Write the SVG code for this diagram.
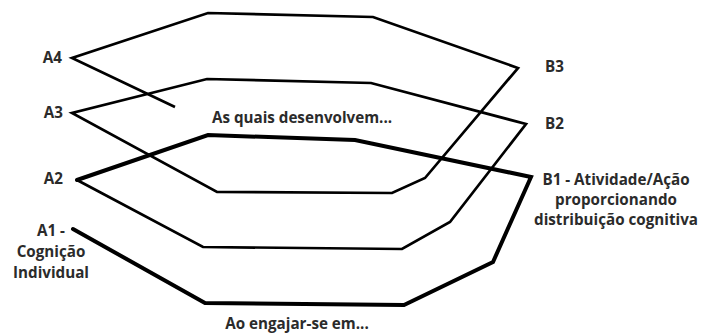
<svg xmlns="http://www.w3.org/2000/svg" width="710" height="335" viewBox="0 0 710 335">
<style>
.t{font-family:"Open Sans","DejaVu Sans",sans-serif;font-weight:bold;font-size:15.2px;fill:#2b2b2b}
.thin{fill:none;stroke:#000;stroke-width:2.7;stroke-linejoin:miter;stroke-linecap:butt}
.thick{fill:none;stroke:#000;stroke-width:4;stroke-linejoin:miter;stroke-linecap:round}
</style>
<rect width="710" height="335" fill="#fff"/>
<g id="connectors">
<polyline class="thin" points="175,107 72,58 208,13 373,17 518,68 425,178 392,193 217,192 72,113 207,79 371,83 526,124 450,222 402,249 203,247 77,180"/>
<polyline class="thick" points="77,180 208,135 355,140 531,177 493,262 404,305 205,303 73,229"/>
</g>
<g id="A4"><text class="t" x="62" y="63" text-anchor="end">A4</text></g>
<g id="A3"><text class="t" x="63" y="118" text-anchor="end">A3</text></g>
<g id="A2"><text class="t" x="63" y="184" text-anchor="end">A2</text></g>
<g id="A1"><text class="t" text-anchor="middle"><tspan x="51" y="236">A1 -</tspan><tspan x="51" y="257">Cognição</tspan><tspan x="51" y="278">Individual</tspan></text></g>
<g id="B3"><text class="t" x="545" y="72">B3</text></g>
<g id="B2"><text class="t" x="545" y="129">B2</text></g>
<g id="B1"><text class="t" text-anchor="middle"><tspan x="616" y="185">B1 - Atividade/Ação</tspan><tspan x="616" y="205">proporcionando</tspan><tspan x="616" y="225">distribuição cognitiva</tspan></text></g>
<g id="label-mid"><text class="t" x="302" y="123" text-anchor="middle">As quais desenvolvem...</text></g>
<g id="label-bottom"><text class="t" x="297" y="329" text-anchor="middle">Ao engajar-se em...</text></g>
</svg>
